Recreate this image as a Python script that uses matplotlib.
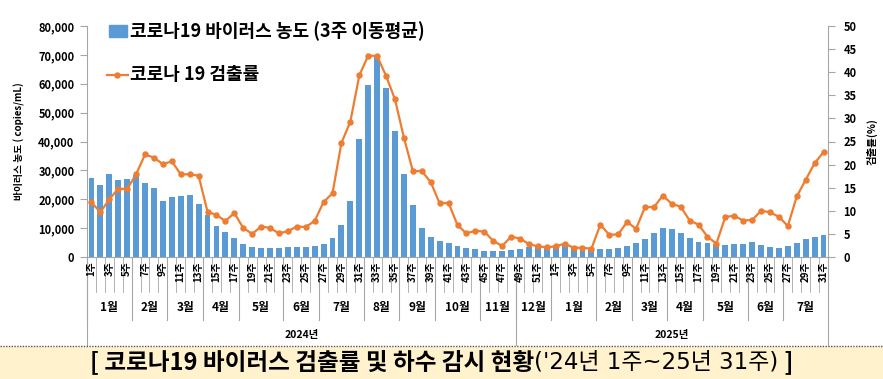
import matplotlib
matplotlib.use('Agg')
import matplotlib.pyplot as plt
import matplotlib.transforms as mtransforms
from matplotlib.lines import Line2D
from matplotlib.patches import Rectangle
import numpy as np

plt.rcParams['font.family'] = ['Noto Sans CJK KR', 'DejaVu Sans']

# ---------------- data ----------------
# virus concentration (3-week moving average), thousand copies/mL
virus_conc_k = [27.4, 25.1, 28.9, 26.8, 26.9, 28.5, 25.5, 24.0, 19.4, 20.9,
                21.1, 21.5, 18.2, 14.5, 10.7, 8.8, 6.5, 4.4, 3.5, 3.1,
                3.2, 3.2, 3.4, 3.6, 3.6, 3.9, 4.5, 6.7, 11.0, 19.4,
                40.7, 59.5, 69.6, 58.4, 43.6, 28.7, 18.1, 10.0, 6.9, 5.5,
                4.7, 3.8, 3.1, 2.8, 2.1, 2.0, 2.1, 2.3, 2.9, 3.3,
                3.4, 3.6, 4.3, 4.1, 3.7, 3.4, 2.8, 2.7, 2.7, 3.2,
                3.9, 4.8, 6.2, 8.4, 10.0, 9.8, 8.2, 6.5, 5.3, 4.8,
                4.4, 4.2, 4.4, 4.5, 5.3, 4.2, 3.6, 3.0, 3.9, 4.9,
                6.2, 6.9, 7.6]
# COVID-19 positivity rate (%)
positivity = [11.8, 9.7, 12.5, 14.8, 14.7, 17.9, 22.2, 21.5, 20.1, 20.7,
              17.9, 17.9, 17.6, 9.8, 9.1, 7.8, 9.5, 6.3, 5.0, 6.6,
              6.3, 5.1, 5.6, 6.6, 6.5, 7.8, 11.9, 13.8, 24.7, 29.3,
              39.3, 43.6, 43.5, 39.2, 34.1, 25.8, 18.6, 18.6, 16.2, 11.6,
              11.7, 6.9, 5.1, 5.7, 5.5, 3.5, 2.4, 4.4, 4.0, 2.8,
              2.3, 2.1, 2.3, 2.9, 2.0, 2.0, 1.8, 7.0, 4.8, 4.9,
              7.6, 6.1, 10.8, 10.8, 13.3, 11.5, 10.9, 7.9, 7.0, 4.4,
              2.9, 8.7, 8.9, 7.9, 8.0, 10.0, 9.7, 8.7, 6.7, 13.1,
              16.7, 20.3, 22.7]
weeks = list(range(1, 53)) + list(range(1, 32))
month_labels = ['1월', '2월', '3월', '4월', '5월', '6월', '7월', '8월', '9월', '10월', '11월',
                '12월', '1월', '2월', '3월', '4월', '5월', '6월', '7월']
month_sizes = [5, 4, 4, 4, 5, 4, 5, 4, 4, 5, 4,
               4, 5, 4, 4, 4, 5, 4, 5]
year_labels = ['2024년', '2025년']
year_sizes = [48, 35]
left_ticks = list(range(0, 80001, 10000))
right_ticks = list(range(0, 51, 5))

# ---------------- figure ----------------
W, H = 883, 379
fig = plt.figure(figsize=(W / 100, H / 100), dpi=100)
L, R, T, B = 87, 828, 26, 257
ax = fig.add_axes([L / W, 1 - B / H, (R - L) / W, (B - T) / H])
ax2 = ax.twinx()

n = len(virus_conc_k)
x = np.arange(n)
bar_color = '#5B9BD5'
line_color = '#ED7D31'
grey = '#A6A6A6'

ax.bar(x, np.array(virus_conc_k) * 1000, width=0.66, color=bar_color, zorder=2)
ax2.plot(x, positivity, color=line_color, lw=1.6, marker='o', ms=3.6, zorder=3)

ax.set_xlim(-0.5, n - 0.5)
ax.set_ylim(0, 80000)
ax2.set_ylim(0, 50)
ax.set_yticks(left_ticks)
ax.set_yticklabels([f'{v:,}' for v in left_ticks], fontsize=8, fontweight='bold')
ax2.set_yticks(right_ticks)
ax2.set_yticklabels([str(v) for v in right_ticks], fontsize=8, fontweight='bold')
ax.set_xticks([])

for a in (ax, ax2):
    a.spines['top'].set_visible(False)
    for s in ('left', 'right', 'bottom'):
        a.spines[s].set_color(grey)
        a.spines[s].set_linewidth(0.8)
ax.spines['right'].set_visible(False)
ax2.spines['left'].set_visible(False)
ax2.spines['bottom'].set_visible(False)
ax.tick_params(axis='y', direction='out', length=5, color=grey, pad=4)
ax2.tick_params(axis='y', direction='out', length=5, color=grey, pad=6)

ax.set_ylabel('바이러스 농도 ( copies/mL)', fontsize=7, fontweight='bold', va='center')
ax.yaxis.set_label_coords((19 - L) / (R - L), 0.5)
ax2.set_ylabel('검출률(%)', fontsize=7.5, fontweight='bold', rotation=90, va='center')
ax2.yaxis.set_label_coords((872 - L) / (R - L), 0.5)

# ---------------- category axis (multi-level) ----------------
trans = mtransforms.blended_transform_factory(ax.transData, ax.transAxes)
def ay(py):
    return (B - py) / (B - T)

week_bottom = ay(292)
month_bottom = ay(320)
year_bottom = ay(345)

for k in range(n + 1):
    ax.plot([k - 0.5, k - 0.5], [0, week_bottom], color=grey, lw=0.6,
            transform=trans, clip_on=False)
for i, w in enumerate(weeks):
    if w % 2 == 1:
        ax.text(i, ay(261), f'{w}주', rotation=90, ha='center', va='top',
                fontsize=7, fontweight='bold', transform=trans)

start = 0
for lab, sz in zip(month_labels, month_sizes):
    ax.plot([start - 0.5, start - 0.5], [0, month_bottom], color=grey, lw=0.8,
            transform=trans, clip_on=False)
    ax.text(start + sz / 2 - 0.5, ay(308), lab, ha='center', va='center',
            fontsize=8.5, fontweight='bold', transform=trans)
    start += sz

start = 0
for lab, sz in zip(year_labels, year_sizes):
    ax.plot([start - 0.5, start - 0.5], [0, year_bottom], color=grey, lw=0.8,
            transform=trans, clip_on=False)
    ax.text(start + sz / 2 - 0.5, ay(335), lab, ha='center', va='center',
            fontsize=7.5, fontweight='bold', transform=trans)
    start += sz
ax.plot([n - 0.5, n - 0.5], [0, year_bottom], color=grey, lw=0.8,
        transform=trans, clip_on=False)

# ---------------- legend (manual) ----------------
def fx(px):
    return px / W
def fy(py):
    return 1 - py / H

fig.add_artist(Rectangle((fx(109), fy(37)), fx(18), 12 / H, color=bar_color,
                         transform=fig.transFigure))
fig.text(fx(130), fy(31), '코로나19 바이러스 농도 (3주 이동평균)', fontsize=13,
         fontweight='bold', va='center', ha='left')
fig.add_artist(Line2D([fx(107), fx(128)], [fy(75), fy(75)], color=line_color, lw=1.6,
                      transform=fig.transFigure))
fig.add_artist(Line2D([fx(117.5)], [fy(75)], color=line_color, marker='o', ms=3.6,
                      transform=fig.transFigure))
fig.text(fx(130), fy(75), '코로나 19 검출률', fontsize=13,
         fontweight='bold', va='center', ha='left')

# ---------------- caption band ----------------
fig.add_artist(Rectangle((0, 0), 1, fy(347), color='#FFF2CC', transform=fig.transFigure,
                         zorder=0))
fig.add_artist(Line2D([0, 1], [fy(346), fy(346)], color='#555555', lw=1.0, ls=(0, (1, 1)),
                      transform=fig.transFigure))

renderer = fig.canvas.get_renderer()
parts = [('[ 코로나19 바이러스 검출률 및 하수 감시 현황', 'bold', 17, ['Noto Sans CJK KR', 'DejaVu Sans']),
         ("('24년 1주~25년 31주)", 'normal', 16.5, ['DejaVu Sans', 'Noto Sans CJK KR']),
         (' ]', 'bold', 17, ['Noto Sans CJK KR', 'DejaVu Sans'])]
texts = []
for s, wgt, fs, fam in parts:
    t = fig.text(0, fy(362), s, fontsize=fs, fontweight=wgt, va='center', ha='left',
                 family=fam)
    texts.append(t)
widths = [t.get_window_extent(renderer).width for t in texts]
total = sum(widths)
xpos = (W - total) / 2
for t, wdt in zip(texts, widths):
    t.set_x(xpos / W)
    xpos += wdt

fig.savefig('out.png', dpi=100)
